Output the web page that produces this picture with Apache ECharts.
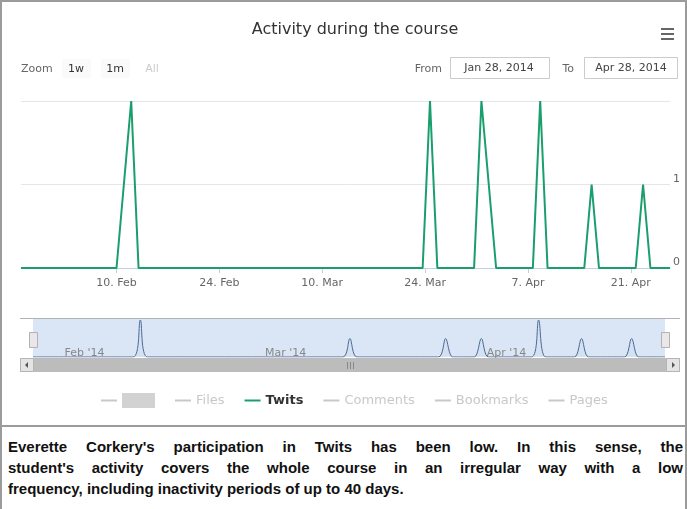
<!DOCTYPE html>
<html>
<head>
<meta charset="utf-8">
<script src="https://cdn.jsdelivr.net/npm/echarts@6/dist/echarts.min.js"></script>
<style>
  html, body { margin: 0; padding: 0; background: #fff; }
  #wrap { position: relative; width: 687px; height: 509px; overflow: hidden; }
  #chart { position: absolute; left: 0; top: 0; width: 687px; height: 425px; }
  #frame { position: absolute; left: 0; top: 0; width: 687px; height: 509px; box-sizing: border-box;
           border: 2px solid #9b9b9b; border-bottom: none; pointer-events: none; }
  #caption { position: absolute; left: 0; top: 425px; width: 687px; height: 84px; box-sizing: border-box;
             border-top: 2px solid #9b9b9b; padding: 9px 4px 0 8px; color: #111;
             font: bold 15px/21px "Liberation Sans", Arial, sans-serif; }
  #caption .j { text-align: justify; text-align-last: justify; white-space: nowrap; }
</style>
</head>
<body>
<div id="wrap">
  <div id="chart"></div>
  <div id="caption">
    <div class="j">Everette Corkery's participation in Twits has been low. In this sense, the</div>
    <div class="j">student's activity covers the whole course in an irregular way with a low</div>
    <div>frequency, including inactivity periods of up to 40 days.</div>
  </div>
  <div id="frame"></div>
</div>
<script>
// Visible time window of the main chart and the navigator
const xStart = '2014-01-28 00:00';
const xEnd = '2014-04-26 08:00';

// Main x-axis ticks
const tickDates = ['2014-02-10', '2014-02-24', '2014-03-10', '2014-03-24', '2014-04-07', '2014-04-21'];
const tickLabels = ['10. Feb', '24. Feb', '10. Mar', '24. Mar', '7. Apr', '21. Apr'];

// Navigator month ticks
const navDates = ['2014-02-01', '2014-03-01', '2014-04-01'];
const navLabels = ["Feb '14", "Mar '14", "Apr '14"];

// Twits per day
const twitsTimes = [
  '2014-01-28 00:00', '2014-02-10 00:00', '2014-02-12 00:00', '2014-02-13 00:00',
  '2014-03-23 16:00', '2014-03-24 16:00', '2014-03-25 16:00',
  '2014-03-30 16:00', '2014-03-31 16:00', '2014-04-02 16:00',
  '2014-04-07 16:00', '2014-04-08 16:00', '2014-04-09 16:00',
  '2014-04-14 16:00', '2014-04-15 16:00', '2014-04-16 16:00',
  '2014-04-21 16:00', '2014-04-22 16:00', '2014-04-23 16:00',
  '2014-04-26 08:00'
];
const twitsValues = [0, 0, 2, 0, 0, 2, 0, 0, 2, 0, 0, 2, 0, 0, 1, 0, 0, 1, 0, 0];

// Overall activity, shown in the navigator
const overviewTimes = [
  '2014-01-28 00:00',
  '2014-02-11 00:00', '2014-02-12 00:00', '2014-02-13 00:00',
  '2014-03-12 07:00', '2014-03-13 07:00', '2014-03-14 07:00',
  '2014-03-25 16:00', '2014-03-26 16:00', '2014-03-27 16:00',
  '2014-03-30 16:00', '2014-03-31 16:00', '2014-04-01 16:00',
  '2014-04-07 16:00', '2014-04-08 16:00', '2014-04-09 16:00',
  '2014-04-13 16:00', '2014-04-14 16:00', '2014-04-15 16:00',
  '2014-04-20 16:00', '2014-04-21 16:00', '2014-04-22 16:00',
  '2014-04-26 08:00'
];
const overviewValues = [0, 0, 2, 0, 0, 1, 0, 0, 1, 0, 0, 1, 0, 0, 2, 0, 0, 1, 0, 0, 1, 0, 0];

// Legend entries (only Twits is switched on)
const legendNames = ['Overview', 'Files', 'Twits', 'Comments', 'Bookmarks', 'Pages'];

const t = s => Date.parse(s.replace(' ', 'T') + ':00Z');
const day = s => t(s + ' 00:00');
const pairs = (xs, ys) => xs.map((x, i) => [t(x), ys[i]]);

const FONT = '"DejaVu Sans", Verdana, sans-serif';
const tickValues = tickDates.map(day);
const navValues = navDates.map(day);

const chart = echarts.init(document.getElementById('chart'), null, { renderer: 'canvas' });

const text = (x, y, str, opts = {}) => ({
  type: 'text', x, y, silent: true, z: 10,
  style: Object.assign({ text: str, fill: '#666', fontSize: 11, fontFamily: FONT,
    textAlign: 'left', textVerticalAlign: 'middle' }, opts)
});
const rect = (x, y, w, h, style, extra = {}) => ({
  type: 'rect', silent: true, shape: { x, y, width: w, height: h, r: extra.r || 0 }, style, z: extra.z || 5
});

const hiddenSeries = name => ({
  name, type: 'line', xAxisIndex: 0, yAxisIndex: 0, data: [], color: '#cccccc', showSymbol: false
});

const selected = {};
legendNames.forEach(n => { selected[n] = n === 'Twits'; });

chart.setOption({
  animation: false,
  title: {
    text: 'Activity during the course',
    left: 350, top: 17, textAlign: 'center',
    textStyle: { fontSize: 16, fontWeight: 'normal', color: '#333', fontFamily: FONT }
  },
  legend: {
    data: legendNames,
    selected,
    left: 96, top: 388,
    icon: 'rect', itemWidth: 16, itemHeight: 2, itemGap: 20,
    inactiveColor: '#c8c8c8',
    selectedMode: false,
    textStyle: {
      fontSize: 13, color: '#333', fontFamily: FONT,
      rich: {
        blk: { width: 33, height: 15, backgroundColor: '#d2d2d2' },
        b: { fontWeight: 'bold', fontSize: 13, fontFamily: FONT }
      }
    },
    formatter: name => name === 'Overview' ? '{blk|}' : (name === 'Twits' ? '{b|Twits}' : name)
  },
  grid: [
    { left: 21, right: 17, top: 101, height: 167 },
    { left: 33, right: 22, top: 320, height: 37 }
  ],
  xAxis: [
    {
      type: 'value', gridIndex: 0, min: t(xStart), max: t(xEnd),
      axisLine: { show: true, lineStyle: { color: '#c0d0e0' } },
      axisTick: { show: true, customValues: tickValues, length: 5, lineStyle: { color: '#c0d0e0' } },
      axisLabel: {
        customValues: tickValues, color: '#666', fontSize: 11, fontFamily: FONT, margin: 10,
        formatter: v => tickLabels[tickValues.indexOf(v)]
      },
      splitLine: { show: false }
    },
    {
      type: 'value', gridIndex: 1, min: t(xStart), max: t(xEnd), z: 10,
      axisLine: { show: false }, axisTick: { show: false },
      axisLabel: {
        customValues: navValues, inside: true, align: 'left', color: '#888', fontSize: 11,
        fontFamily: FONT, margin: -2, padding: [0, 0, 0, 3],
        formatter: v => navLabels[navValues.indexOf(v)]
      },
      splitLine: { show: false }
    }
  ],
  yAxis: [
    {
      type: 'value', gridIndex: 0, position: 'right', min: 0, max: 2, interval: 1,
      axisLine: { show: false }, axisTick: { show: false },
      axisLabel: { color: '#666', fontSize: 11, fontFamily: FONT, margin: 3, verticalAlign: 'bottom', showMaxLabel: false },
      splitLine: { lineStyle: { color: '#e6e6e6' } }
    },
    { type: 'value', gridIndex: 1, min: 0, max: 2, show: false }
  ],
  series: [
    hiddenSeries('Overview'),
    hiddenSeries('Files'),
    {
      name: 'Twits', type: 'line', xAxisIndex: 0, yAxisIndex: 0,
      data: pairs(twitsTimes, twitsValues),
      color: '#1b9e6e', showSymbol: false, symbol: 'none',
      lineStyle: { width: 2, color: '#1b9e6e' }, z: 3
    },
    hiddenSeries('Comments'),
    hiddenSeries('Bookmarks'),
    hiddenSeries('Pages'),
    {
      name: 'navigator', type: 'line', xAxisIndex: 1, yAxisIndex: 1,
      data: pairs(overviewTimes, overviewValues), smooth: 0.3,
      showSymbol: false, symbol: 'none', silent: true, z: 8,
      lineStyle: { width: 1, color: '#4d6a93' },
      areaStyle: { color: 'rgba(69,114,167,0.05)' }
    }
  ],
  graphic: [
    // export menu icon
    rect(661, 28, 13, 2, { fill: '#666' }),
    rect(661, 33, 13, 2, { fill: '#666' }),
    rect(661, 38, 13, 2, { fill: '#666' }),
    // range selector
    text(21, 69, 'Zoom'),
    rect(62, 59, 29, 19, { fill: '#fafafa' }, { r: 2 }),
    rect(101, 59, 29, 19, { fill: '#fafafa' }, { r: 2 }),
    text(76, 69, '1w', { fill: '#333', textAlign: 'center' }),
    text(115, 69, '1m', { fill: '#333', textAlign: 'center' }),
    text(152, 69, 'All', { fill: '#cccccc', textAlign: 'center' }),
    // date inputs
    text(442, 69, 'From', { textAlign: 'right' }),
    rect(450.5, 57.5, 99, 21, { fill: '#fff', stroke: '#cccccc', lineWidth: 1 }),
    text(499, 68, 'Jan 28, 2014', { fill: '#444', textAlign: 'center' }),
    text(574, 69, 'To', { textAlign: 'right' }),
    rect(584.5, 57.5, 93, 21, { fill: '#fff', stroke: '#cccccc', lineWidth: 1 }),
    text(631, 68, 'Apr 28, 2014', { fill: '#444', textAlign: 'center' }),
    // navigator mask and outline
    rect(33, 318, 632, 39, { fill: '#dae6f6' }, { z: 1 }),
    { type: 'line', silent: true, z: 6, shape: { x1: 20, y1: 318.5, x2: 680, y2: 318.5 }, style: { stroke: '#b2b1b6', lineWidth: 1 } },
    // navigator handles
    rect(29.5, 332.5, 8, 15, { fill: '#ebe7e8', stroke: '#b2b1b6', lineWidth: 1 }, { z: 9 }),
    rect(661.5, 332.5, 8, 15, { fill: '#ebe7e8', stroke: '#b2b1b6', lineWidth: 1 }, { z: 9 }),
    // scrollbar
    rect(20, 358, 660, 14, { fill: '#bcbcbc' }, { z: 5 }),
    rect(20.5, 358.5, 13, 13, { fill: '#e4e4e4', stroke: '#b5b5b5', lineWidth: 1 }, { z: 6 }),
    rect(666.5, 358.5, 13, 13, { fill: '#e4e4e4', stroke: '#b5b5b5', lineWidth: 1 }, { z: 6 }),
    { type: 'polygon', silent: true, z: 7, shape: { points: [[28, 362], [28, 368], [25, 365]] }, style: { fill: '#555' } },
    { type: 'polygon', silent: true, z: 7, shape: { points: [[672, 362], [672, 368], [675, 365]] }, style: { fill: '#555' } },
    rect(347, 362, 1, 7, { fill: '#888' }, { z: 7 }),
    rect(350, 362, 1, 7, { fill: '#888' }, { z: 7 }),
    rect(353, 362, 1, 7, { fill: '#888' }, { z: 7 })
  ]
});
</script>
</body>
</html>
